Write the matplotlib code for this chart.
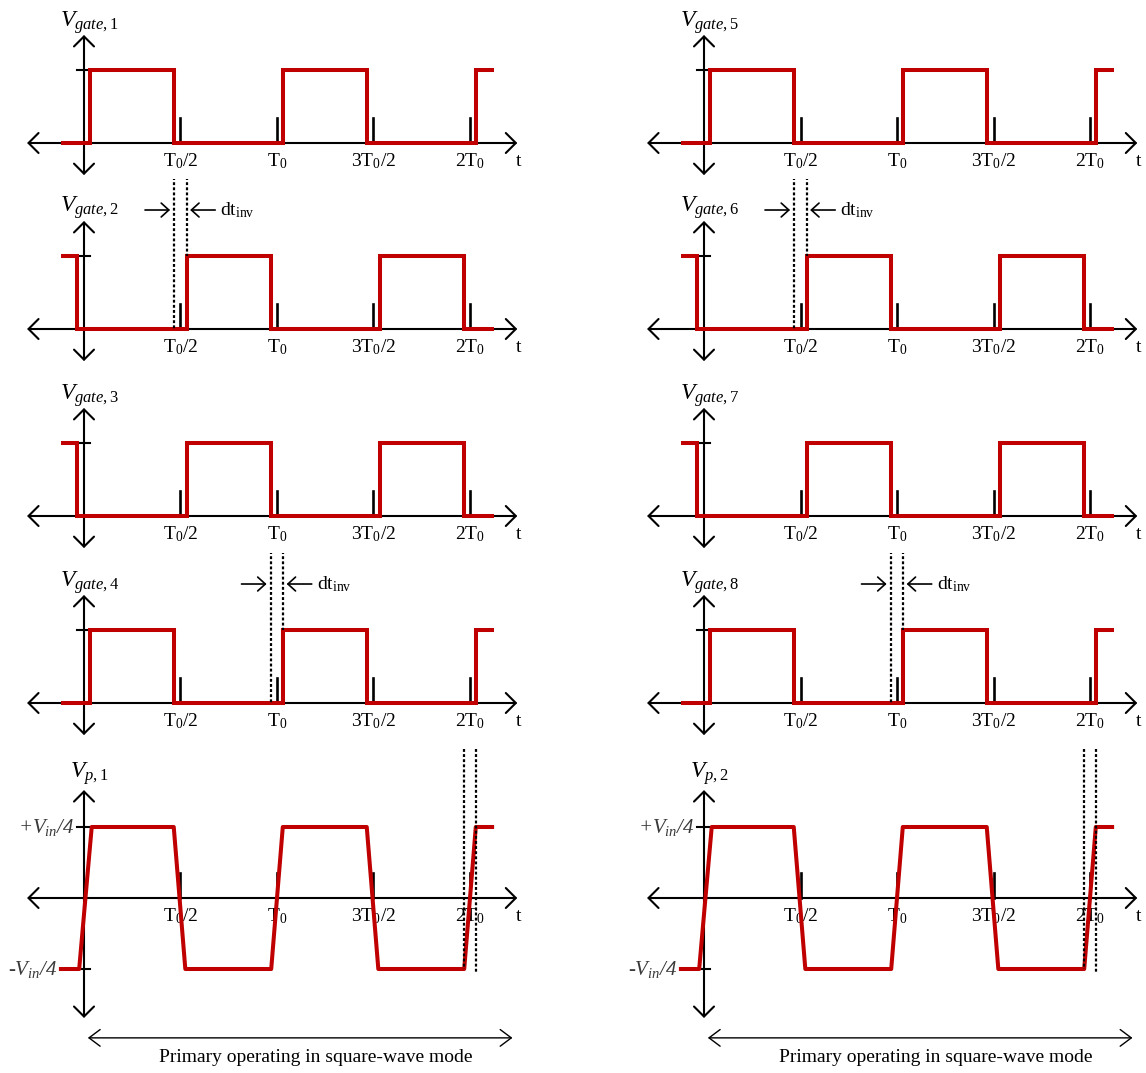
import matplotlib
matplotlib.use('Agg')
import matplotlib.pyplot as plt

plt.rcParams['font.family'] = 'Liberation Serif'
plt.rcParams['mathtext.fontset'] = 'custom'
plt.rcParams['mathtext.rm'] = 'Liberation Serif'
plt.rcParams['mathtext.it'] = 'Liberation Serif:italic'

W, H = 1146, 1073
RED = '#c00000'

# time axis marks, in units of T0
tick_times = [0.5, 1.0, 1.5, 2.0]
tick_labels = [r'$\mathrm{T_0/2}$', r'$\mathrm{T_0}$', r'$\mathrm{3T_0/2}$', r'$\mathrm{2T_0}$']

dt_inv = 0.032
t_start, t_end = -0.12, 2.125

# switching instants of the two complementary gate patterns
gate_a_edges = [0.032, 0.468, 1.032, 1.468, 2.032]
gate_a_init = 0
gate_b_edges = [-0.035, 0.532, 0.968, 1.532, 1.968]
gate_b_init = 1

# primary voltage corners, normalised to Vin/4
vp_t = [-0.13, -0.025, 0.04, 0.465, 0.525, 0.97, 1.03, 1.465, 1.525, 1.97, 2.03, 2.125]
vp_v = [-1, -1, 1, 1, -1, -1, 1, 1, -1, -1, 1, 1]

gate_names = [['1', '2', '3', '4'], ['5', '6', '7', '8']]
gate_pattern = ['a', 'b', 'b', 'a']
vp_names = ['1', '2']
bottom_text = 'Primary operating in square-wave mode'

# layout in pixels
col_axis_x = [84, 704]
row_axis_y = [143, 329, 516, 703, 898]
T_PX = 193
GATE_PX = 73
VP_PX = 71


def add_panel(fig, x0, y0, unit):
    L, R = x0 - 84, x0 + 460
    top, bottom = y0 - 150, y0 + 150
    ax = fig.add_axes([L / W, 1 - bottom / H, (R - L) / W, (bottom - top) / H])
    ax.set_xlim((L - x0) / T_PX, (R - x0) / T_PX)
    ax.set_ylim((y0 - bottom) / unit, (y0 - top) / unit)
    ax.axis('off')
    return ax


def arrow(ax, p0, p1, style, lw=1.5, hl=0.72, hw=0.72):
    ax.annotate('', xy=p1, xytext=p0, annotation_clip=False,
                arrowprops=dict(arrowstyle=f'{style},head_length={hl},head_width={hw}',
                                lw=lw, color='k', shrinkA=0, shrinkB=0,
                                mutation_scale=10))


def draw_axes(ax, unit, y_lo, y_hi, levels):
    arrow(ax, (-0.295, 0), (2.245, 0), '<->')
    arrow(ax, (0, y_lo), (0, y_hi), '<->')
    for t in tick_times:
        ax.plot([t, t], [0, 25 / unit], color='k', lw=1.9, zorder=2)
    for lv in levels:
        ax.plot([-0.036, 0.03], [lv, lv], color='k', lw=1.5, zorder=2)
    for t, lab in zip(tick_times, tick_labels):
        ax.text(t, -23 / unit, lab, ha='center', va='baseline', fontsize=14)
    ax.text(2.25, -23 / unit, 't', ha='center', va='baseline', fontsize=14)


def step_xy(edges, init):
    xs, ys, lv = [t_start], [init], init
    for e in edges:
        xs += [e, e]
        ys += [lv, 1 - lv]
        lv = 1 - lv
    xs.append(t_end)
    ys.append(lv)
    return xs, ys


def dotted(ax, x, y0, y1):
    ax.plot([x, x], [y0, y1], color='k', lw=1.6, ls=(0, (1.3, 1.0)), zorder=4)


def dt_marker(ax, shift):
    y = 1.63
    arrow(ax, (0.316 + shift, y), (0.446 + shift, y), '->', lw=1.2, hl=0.55, hw=0.5)
    arrow(ax, (0.68 + shift, y), (0.55 + shift, y), '->', lw=1.2, hl=0.55, hw=0.5)
    ax.text(0.705 + shift, y, r'$\mathrm{dt_{inv}}$', ha='left', va='center', fontsize=14)


fig = plt.figure(figsize=(W / 100, H / 100), dpi=100)

for c, x0 in enumerate(col_axis_x):
    axes = []
    for r in range(4):
        ax = add_panel(fig, x0, row_axis_y[r], GATE_PX)
        draw_axes(ax, GATE_PX, -0.44, 1.48, [1])
        if gate_pattern[r] == 'a':
            xs, ys = step_xy(gate_a_edges, gate_a_init)
        else:
            xs, ys = step_xy(gate_b_edges, gate_b_init)
        ax.plot(xs, ys, color=RED, lw=2.9, solid_joinstyle='miter',
                solid_capstyle='butt', zorder=3)
        ax.text(-0.124, 1.60, r'$V_{\mathit{gate,%s}}$' % gate_names[c][r],
                ha='left', va='baseline', fontsize=17)
        axes.append(ax)

    ax5 = add_panel(fig, x0, row_axis_y[4], VP_PX)
    draw_axes(ax5, VP_PX, -1.69, 1.52, [1, -1])
    ax5.plot(vp_t, vp_v, color=RED, lw=2.9, solid_joinstyle='round',
             solid_capstyle='butt', zorder=3)
    ax5.text(-0.073, 1.69, r'$V_{\mathit{p,%s}}$' % vp_names[c],
             ha='left', va='baseline', fontsize=17)
    ax5.text(-0.05, 1, r'+$V_{\mathit{in}}$/4', ha='right', va='center',
             fontsize=15, style='italic', color='#3a3a3a')
    ax5.text(-0.14, -1, r'-$V_{\mathit{in}}$/4', ha='right', va='center',
             fontsize=15, style='italic', color='#3a3a3a')
    arrow(ax5, (0.02, -1.97), (2.22, -1.97), '<->', lw=1.0, hl=0.8, hw=0.6)
    ax5.text(1.2, -2.25, bottom_text, ha='center', va='center', fontsize=14)

    # dead-time markers between the panels
    dotted(axes[1], 0.5 - dt_inv, 2.15, 0)
    dotted(axes[1], 0.5 + dt_inv, 2.15, 1)
    dt_marker(axes[1], 0)
    dotted(axes[3], 1 - dt_inv, 2.15, 0)
    dotted(axes[3], 1 + dt_inv, 2.15, 1)
    dt_marker(axes[3], 0.5)
    dotted(ax5, 2 - dt_inv, 2.75, -1)
    dotted(ax5, 2 + dt_inv, 2.75, -1.04)

fig.savefig('out.png', dpi=100)
